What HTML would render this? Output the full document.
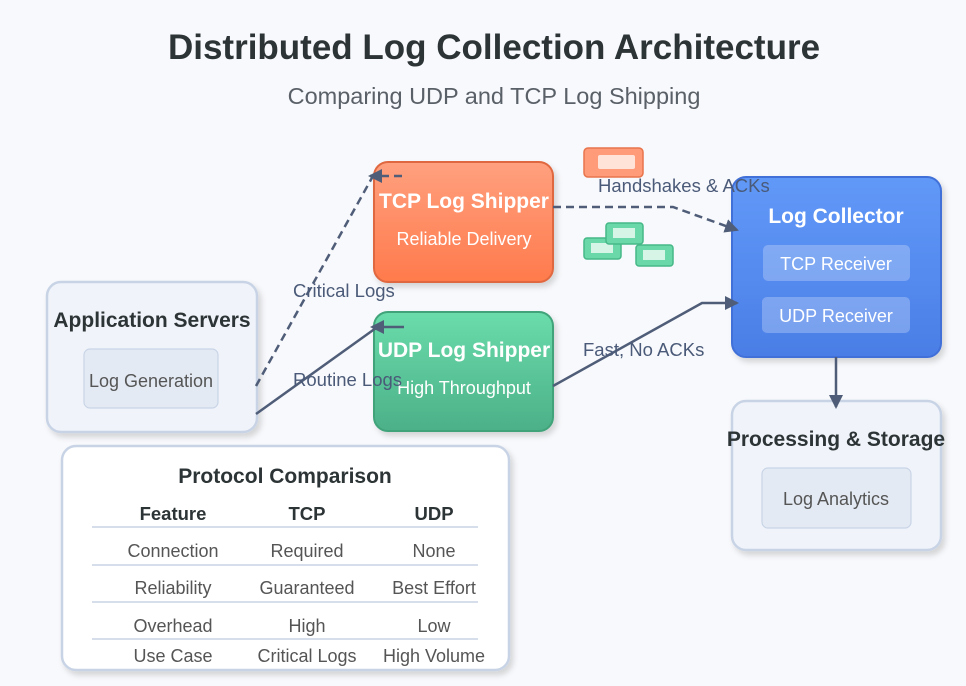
<!DOCTYPE html>
<html><head><meta charset="utf-8"><style>
html,body{margin:0;padding:0;background:#f8f9fc;}
svg{display:block;font-family:"Liberation Sans",sans-serif;}
</style></head><body>
<svg width="966" height="686" viewBox="0 0 966 686" xmlns="http://www.w3.org/2000/svg">
<defs>
<linearGradient id="go" x1="0" y1="0" x2="0" y2="1"><stop offset="0" stop-color="#ffa07e"/><stop offset="1" stop-color="#ff7a4c"/></linearGradient>
<linearGradient id="gg" x1="0" y1="0" x2="0" y2="1"><stop offset="0" stop-color="#6adcab"/><stop offset="1" stop-color="#4cb088"/></linearGradient>
<linearGradient id="gb" x1="0" y1="0" x2="0" y2="1"><stop offset="0" stop-color="#6199f8"/><stop offset="1" stop-color="#4a7ee6"/></linearGradient>
<filter id="sh" x="-10%" y="-10%" width="130%" height="130%"><feDropShadow dx="3" dy="4" stdDeviation="3" flood-color="#000" flood-opacity="0.15"/></filter>
<marker id="ah" markerWidth="14" markerHeight="14" refX="12" refY="7" orient="auto" markerUnits="userSpaceOnUse"><path d="M0,0 L14,7 L0,14 z" fill="#4f5d78"/></marker>
</defs>
<rect width="966" height="686" fill="#f8f9fc"/>
<text x="494" y="59" text-anchor="middle" font-size="35" font-weight="bold" fill="#2d3436">Distributed Log Collection Architecture</text>
<text x="494" y="104" text-anchor="middle" font-size="23.5" fill="#5a6068">Comparing UDP and TCP Log Shipping</text>

<rect x="47" y="282" width="210" height="150" rx="14" fill="#f0f4fa" stroke="#c8d4e6" stroke-width="2.5" filter="url(#sh)"/>
<text x="152" y="327" text-anchor="middle" font-size="21" font-weight="bold" fill="#2d3436">Application Servers</text>
<rect x="84" y="349" width="134" height="59" rx="6" fill="#e4eaf3" stroke="#c8d4e6" stroke-width="1.2"/>
<text x="151" y="387" text-anchor="middle" font-size="18" fill="#555">Log Generation</text>

<rect x="374" y="162" width="179" height="120" rx="14" fill="url(#go)" stroke="#e0683f" stroke-width="2" filter="url(#sh)"/>
<text x="464" y="208" text-anchor="middle" font-size="21" font-weight="bold" fill="#fff">TCP Log Shipper</text>
<text x="464" y="245" text-anchor="middle" font-size="18" fill="#fff">Reliable Delivery</text>

<rect x="374" y="312" width="179" height="119" rx="14" fill="url(#gg)" stroke="#3fa37a" stroke-width="2" filter="url(#sh)"/>
<text x="464" y="357" text-anchor="middle" font-size="21" font-weight="bold" fill="#fff">UDP Log Shipper</text>
<text x="464" y="394" text-anchor="middle" font-size="18" fill="#fff">High Throughput</text>

<rect x="732" y="177" width="209" height="180" rx="14" fill="url(#gb)" stroke="#3f6fd8" stroke-width="2" filter="url(#sh)"/>
<text x="836" y="223" text-anchor="middle" font-size="21" font-weight="bold" fill="#fff">Log Collector</text>
<rect x="763" y="245" width="147" height="36" rx="5" fill="#fff" fill-opacity="0.25"/>
<text x="836" y="270" text-anchor="middle" font-size="18" fill="#fff">TCP Receiver</text>
<rect x="762" y="297" width="148" height="36" rx="5" fill="#fff" fill-opacity="0.25"/>
<text x="836" y="322" text-anchor="middle" font-size="18" fill="#fff">UDP Receiver</text>

<rect x="732" y="401" width="209" height="149" rx="14" fill="#f0f4fa" stroke="#c8d4e6" stroke-width="2.5" filter="url(#sh)"/>
<text x="836" y="446" text-anchor="middle" font-size="21" font-weight="bold" fill="#2d3436">Processing &amp; Storage</text>
<rect x="762" y="468" width="149" height="60" rx="6" fill="#e4eaf3" stroke="#c8d4e6" stroke-width="1.2"/>
<text x="836" y="505" text-anchor="middle" font-size="18" fill="#555">Log Analytics</text>

<rect x="584" y="148" width="59" height="29" rx="4" fill="#ff9b78" stroke="#e8744c" stroke-width="1.5"/>
<rect x="598" y="155" width="37" height="14" rx="2" fill="#ffe2d8"/>
<rect x="584" y="238" width="37" height="21" rx="3" fill="#6ad8a8" stroke="#46b888" stroke-width="1.5"/>
<rect x="591" y="243" width="22" height="10" fill="#d6f5e6"/>
<rect x="606" y="223" width="37" height="21" rx="3" fill="#6ad8a8" stroke="#46b888" stroke-width="1.5"/>
<rect x="613" y="228" width="22" height="10" fill="#d6f5e6"/>
<rect x="636" y="245" width="37" height="21" rx="3" fill="#6ad8a8" stroke="#46b888" stroke-width="1.5"/>
<rect x="643" y="250" width="22" height="10" fill="#d6f5e6"/>

<g stroke="#4f5d78" stroke-width="2.5" fill="none">
<path d="M256,386 L373,176" stroke-dasharray="8,5"/>
<path d="M402,176 L370,176" stroke-dasharray="8,5" marker-end="url(#ah)"/>
<path d="M256,414 L376,328"/>
<path d="M404,327 L372,327" marker-end="url(#ah)"/>
<path d="M553,207 L673,207 L737,230" stroke-dasharray="8,5" marker-end="url(#ah)"/>
<path d="M553,386 L702,303 L737,303" marker-end="url(#ah)"/>
<path d="M836,357 L836,407" marker-end="url(#ah)"/>
</g>
<g font-size="18.5" fill="#4a5a78">
<text x="293" y="297">Critical Logs</text>
<text x="293" y="386">Routine Logs</text>
<text x="598" y="192">Handshakes &amp; ACKs</text>
<text x="583" y="356">Fast, No ACKs</text>
</g>

<rect x="62" y="446" width="447" height="224" rx="14" fill="#fff" stroke="#c8d4e6" stroke-width="2.5" filter="url(#sh)"/>
<text x="285" y="483" text-anchor="middle" font-size="21" font-weight="bold" fill="#2d3436">Protocol Comparison</text>
<g font-size="18.5" font-weight="bold" fill="#2d3436" text-anchor="middle">
<text x="173" y="520">Feature</text><text x="307" y="520">TCP</text><text x="434" y="520">UDP</text>
</g>
<g stroke="#c8d4e6" stroke-width="1.5">
<line x1="92" y1="527" x2="478" y2="527"/><line x1="92" y1="565" x2="478" y2="565"/>
<line x1="92" y1="602" x2="478" y2="602"/><line x1="92" y1="639" x2="478" y2="639"/>
</g>
<g font-size="18" fill="#555" text-anchor="middle">
<text x="173" y="557">Connection</text><text x="307" y="557">Required</text><text x="434" y="557">None</text>
<text x="173" y="594">Reliability</text><text x="307" y="594">Guaranteed</text><text x="434" y="594">Best Effort</text>
<text x="173" y="632">Overhead</text><text x="307" y="632">High</text><text x="434" y="632">Low</text>
<text x="173" y="662">Use Case</text><text x="307" y="662">Critical Logs</text><text x="434" y="662">High Volume</text>
</g>
</svg>
</body></html>
